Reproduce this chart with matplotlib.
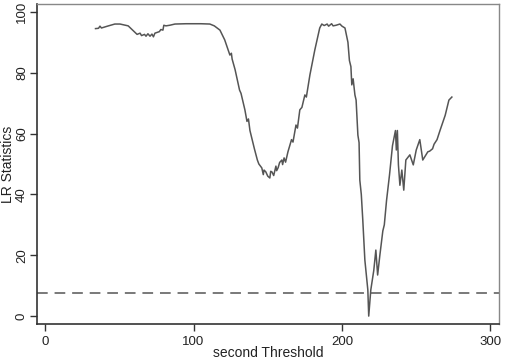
import os

os.environ.setdefault("MPLCONFIGDIR", "/tmp/matplotlib")

import matplotlib

matplotlib.use("Agg")
import matplotlib.pyplot as plt

# Threshold grid and LR statistic (rows of 10).
threshold = [
    34, 36, 37, 38, 42, 47, 50.5, 56, 59, 62,
    64, 65, 67, 68, 69.3, 70.7, 72, 73, 74, 77,
    78, 79.4, 80, 81.4, 84, 87.5, 95, 105, 111, 114,
    117.8, 121, 123, 124.5, 125.5, 126, 128, 131, 132, 134.6,
    136, 137, 138, 141, 143, 144, 146, 147, 147.5, 148.7,
    150, 151.4, 152, 152.8, 154, 155.5, 156, 157, 158, 159.5,
    160, 161, 162, 163.6, 166, 167, 169, 170, 171.6, 173,
    175, 176, 178.4, 181.7, 185, 186.4, 188, 190, 191, 193,
    194, 196, 198.6, 200, 202, 204, 205, 206, 206.6, 207.5,
    208.7, 209.5, 210.7, 211.5, 212, 213, 214, 215.4, 217.4, 218,
    219.4, 221.4, 222.8, 224, 225.5, 227.5, 228.5, 230, 232, 234,
    236, 236.6, 237.3, 238, 239, 240.3, 241.6, 243, 245.7, 248,
    250, 252.4, 254.4, 257.8, 259, 261, 262, 264, 266, 269.5,
    272, 274,
]
lr_stat = [
    94.5, 94.6, 95.3, 94.7, 95.3, 96, 96, 95.4, 94, 92.6,
    93, 92.2, 92.6, 92, 92.8, 92, 92.7, 91.8, 93, 93.5,
    94.2, 94, 95.6, 95.4, 95.6, 96, 96.1, 96.1, 96, 95.4,
    94, 90.8, 88, 85.8, 86.4, 84.5, 81, 74.3, 73.2, 67.8,
    64, 64.8, 61, 55, 51.3, 50, 48.7, 46.5, 48, 47.4,
    46, 45.4, 47.6, 47.4, 46.2, 49.3, 47.8, 48.8, 50.5, 51.3,
    49.8, 52, 50.6, 54, 58, 57.2, 62.8, 61.8, 67.8, 68.6,
    72.7, 72, 79.3, 87.5, 94.7, 96, 95.5, 96, 95.3, 96.1,
    95.4, 95.6, 96, 95.3, 94.7, 90, 84, 82, 76, 78,
    72.7, 71, 59.5, 57, 44.7, 40, 31.6, 18.4, 8.6, 0,
    8.6, 15, 21.7, 13.5, 20, 28, 30, 38, 46.4, 56,
    61, 54.6, 61, 49.7, 43, 48, 41.4, 51.3, 53, 49.7,
    54.6, 58, 51.3, 54, 54.2, 55, 56.5, 58, 61, 66,
    71, 72,
]
critical_value = 7.5

x_ticks = [0, 100, 200, 300]
y_ticks = [0, 20, 40, 60, 80, 100]

plt.rcParams["font.family"] = ["Liberation Sans", "DejaVu Sans"]

fig = plt.figure(figsize=(5.05, 3.6), dpi=100)
ax = fig.add_axes([0.0733, 0.1, 0.9147, 0.889])

ax.plot(threshold, lr_stat, color="#555555", linewidth=1.1)
ax.axhline(critical_value, color="#555555", linewidth=1.1, linestyle=(0, (7, 4.5)))

ax.set_xlim(-5.4, 305.7)
ax.set_ylim(-2.6, 102.6)
ax.set_xticks(x_ticks)
ax.set_yticks(y_ticks)
ax.tick_params(axis="both", direction="out", length=5, width=1, color="#333333",
               labelsize=9.5, labelcolor="#222222")
ax.tick_params(axis="y", labelrotation=90, pad=1.5)
for lbl in ax.get_yticklabels():
    lbl.set_va("center")

for side in ["left", "bottom"]:
    ax.spines[side].set_color("#333333")
    ax.spines[side].set_linewidth(1.2)
for side in ["top", "right"]:
    ax.spines[side].set_color("#888888")
    ax.spines[side].set_linewidth(1.0)

ax.set_xlabel("second Threshold", fontsize=10, color="#222222")
ax.xaxis.set_label_coords(0.5, -0.068)
ax.set_ylabel("LR Statistics", fontsize=10, color="#222222")
ax.yaxis.set_label_coords(-0.048, 0.5)

fig.savefig("out.png", dpi=100)
